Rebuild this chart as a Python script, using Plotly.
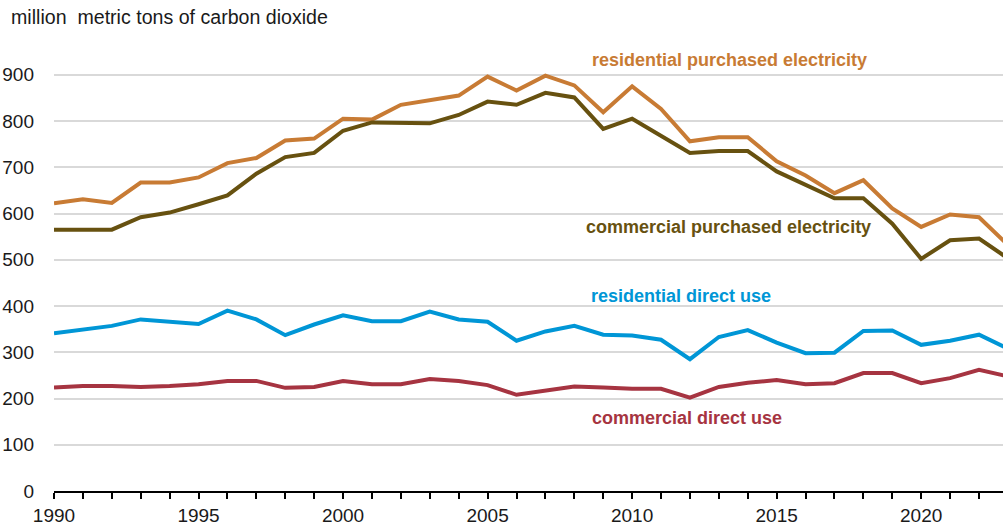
import plotly.graph_objects as go

years = list(range(1990, 2024))

res_elec = [622, 631, 623, 667, 667, 678, 709, 720, 758, 762,
            805, 803, 835, 845, 855, 896, 866, 898, 877, 819,
            875, 826, 756, 765, 765, 713, 682, 644, 672, 611,
            571, 598, 592, 532]
com_elec = [565, 565, 565, 592, 602, 620, 639, 686, 722, 731,
            779, 797, 795, 795, 813, 842, 835, 861, 851, 783,
            805, 767, 731, 735, 735, 691, 662, 633, 633, 578,
            502, 542, 546, 503]
res_direct = [341, 348, 357, 371, 366, 361, 390, 371, 337, 360,
              380, 367, 367, 388, 371, 366, 325, 345, 357, 338,
              336, 327, 285, 333, 348, 321, 298, 299, 346, 347,
              316, 325, 338, 308]
com_direct = [224, 227, 227, 225, 227, 231, 238, 238, 223, 225,
              238, 231, 231, 242, 238, 229, 208, 218, 226, 224,
              221, 221, 202, 225, 234, 240, 231, 233, 255, 255,
              233, 244, 262, 248]

series = [
    ("residential purchased electricity", res_elec, "#C87B34"),
    ("commercial purchased electricity", com_elec, "#675110"),
    ("residential direct use", res_direct, "#0096D6"),
    ("commercial direct use", com_direct, "#A63441"),
]

labels = [
    ("residential purchased electricity", 2013.36, 932, "#C87B34"),
    ("commercial purchased electricity", 2013.32, 571, "#675110"),
    ("residential direct use", 2011.7, 422, "#0096D6"),
    ("commercial direct use", 2011.9, 158, "#A63441"),
]

FONT = "Arial, Liberation Sans, sans-serif"
W, H = 1003, 527
ml, mr, mt, mb = 54, 0, 47, 36

fig = go.Figure()
for name, vals, col in series:
    fig.add_trace(go.Scatter(x=years, y=vals, mode="lines", name=name,
                             line=dict(color=col, width=4), hoverinfo="x+y"))

for text, x, y, col in labels:
    fig.add_annotation(x=x, y=y, xref="x", yref="y", text="<b>" + text + "</b>",
                       showarrow=False, font=dict(size=18, color=col, family=FONT))

fig.add_annotation(x=(9 - ml) / (W - ml - mr), y=1 + (mt - 17) / (H - mt - mb),
                   xref="paper", yref="paper", xanchor="left", yanchor="middle",
                   text="million  metric tons of carbon dioxide", showarrow=False,
                   font=dict(size=19.6, color="#1a1a1a", family=FONT))

fig.update_layout(
    width=W, height=H,
    margin=dict(l=ml, r=mr, t=mt, b=mb, pad=0, autoexpand=False),
    paper_bgcolor="white", plot_bgcolor="white",
    showlegend=False,
    font=dict(family=FONT, size=19, color="#1a1a1a"),
    xaxis=dict(range=[1990, 2022.83], tick0=1990, dtick=5, ticks="outside", ticklen=6,
               tickwidth=1.5, tickcolor="black", showgrid=False, showline=True,
               linecolor="black", linewidth=2, zeroline=False, automargin=False,
               minor=dict(dtick=1, ticks="outside", ticklen=6, tickwidth=1.5, tickcolor="black")),
    yaxis=dict(range=[0, 960], tickvals=[0, 100, 200, 300, 400, 500, 600, 700, 800, 900],
               showgrid=True, gridcolor="#D9D9D9", gridwidth=1.5, zeroline=False,
               showline=False, ticks="", ticklabelstandoff=19, automargin=False),
)

fig.write_html("out.html", config={"displayModeBar": False},
               post_script="document.body.style.margin='0px';document.body.style.padding='0px';")
